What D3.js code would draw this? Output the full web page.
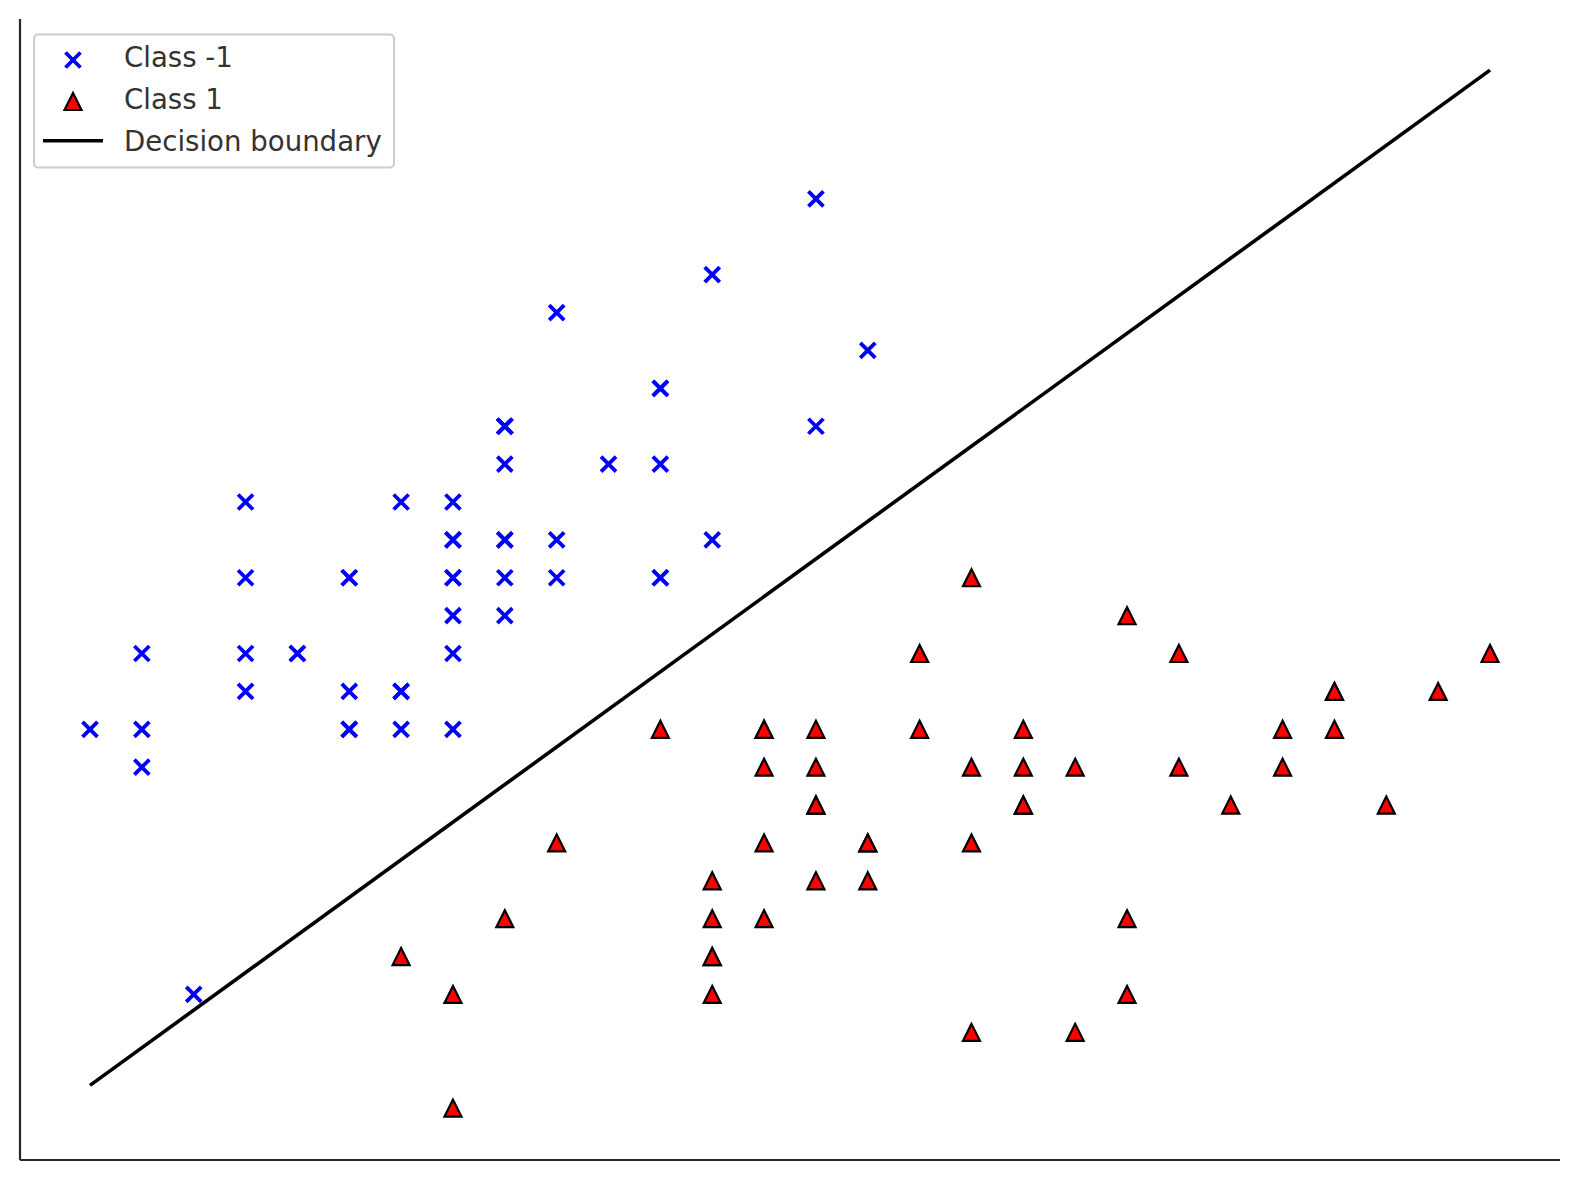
<!DOCTYPE html>
<html>
<head>
<meta charset="utf-8">
<script src="https://cdn.jsdelivr.net/npm/d3@7"></script>
<style>
  body { margin: 0; background: #fff; }
  svg { display: block; font-family: "DejaVu Sans", sans-serif; }
</style>
</head>
<body>
<div id="chart"></div>
<script>
// Iris: sepal length vs sepal width (setosa = -1, versicolor = 1)
const negX = [5.1, 4.9, 4.7, 4.6, 5.0, 5.4, 4.6, 5.0, 4.4, 4.9, 5.4, 4.8, 4.8, 4.3, 5.8, 5.7, 5.4, 5.1, 5.7, 5.1,
              5.4, 5.1, 4.6, 5.1, 4.8, 5.0, 5.0, 5.2, 5.2, 4.7, 4.8, 5.4, 5.2, 5.5, 4.9, 5.0, 5.5, 4.9, 4.4, 5.1,
              5.0, 4.5, 4.4, 5.0, 5.1, 4.8, 5.1, 4.6, 5.3, 5.0];
const negY = [3.5, 3.0, 3.2, 3.1, 3.6, 3.9, 3.4, 3.4, 2.9, 3.1, 3.7, 3.4, 3.0, 3.0, 4.0, 4.4, 3.9, 3.5, 3.8, 3.8,
              3.4, 3.7, 3.6, 3.3, 3.4, 3.0, 3.4, 3.5, 3.4, 3.2, 3.1, 3.4, 4.1, 4.2, 3.1, 3.2, 3.5, 3.6, 3.0, 3.4,
              3.5, 2.3, 3.2, 3.5, 3.8, 3.0, 3.8, 3.2, 3.7, 3.3];
const posX = [7.0, 6.4, 6.9, 5.5, 6.5, 5.7, 6.3, 4.9, 6.6, 5.2, 5.0, 5.9, 6.0, 6.1, 5.6, 6.7, 5.6, 5.8, 6.2, 5.6,
              5.9, 6.1, 6.3, 6.1, 6.4, 6.6, 6.8, 6.7, 6.0, 5.7, 5.5, 5.5, 5.8, 6.0, 5.4, 6.0, 6.7, 6.3, 5.6, 5.5,
              5.5, 6.1, 5.8, 5.0, 5.6, 5.7, 5.7, 6.2, 5.1, 5.7];
const posY = [3.2, 3.2, 3.1, 2.3, 2.8, 2.8, 3.3, 2.4, 2.9, 2.7, 2.0, 3.0, 2.2, 2.9, 2.9, 3.1, 3.0, 2.7, 2.2, 2.5,
              3.2, 2.8, 2.5, 2.8, 2.9, 3.0, 2.8, 3.0, 2.9, 2.6, 2.4, 2.4, 2.7, 2.7, 3.0, 3.4, 3.1, 2.3, 3.0, 2.5,
              2.6, 3.0, 2.6, 2.3, 2.7, 3.0, 2.9, 2.9, 2.5, 2.8];
const boundaryX = [4.3, 7.0];
const boundaryY = [2.06, 4.74];
const legendLabels = ["Class -1", "Class 1", "Decision boundary"];

const width = 1579, height = 1180;
const svg = d3.select("#chart").append("svg")
    .attr("width", width)
    .attr("height", height);

const x = d3.scaleLinear().domain([4.165, 7.135]).range([20, 1560]);
const y = d3.scaleLinear().domain([1.863, 4.875]).range([1160, 19]);

// spines (left and bottom only, no ticks)
svg.append("line").attr("x1", 20).attr("x2", 20).attr("y1", 19).attr("y2", 1160)
    .attr("stroke", "#262626").attr("stroke-width", 2.2);
svg.append("line").attr("x1", 20).attr("x2", 1560).attr("y1", 1160).attr("y2", 1160)
    .attr("stroke", "#262626").attr("stroke-width", 2.2);

const xPath = (cx, cy, r) => `M${cx - r},${cy - r}L${cx + r},${cy + r}M${cx - r},${cy + r}L${cx + r},${cy - r}`;
const triPath = (cx, cy, r) => `M${cx},${cy - r}L${cx - r},${cy + r}L${cx + r},${cy + r}Z`;

const neg = negX.map((v, i) => ({x: v, y: negY[i]}));
const pos = posX.map((v, i) => ({x: v, y: posY[i]}));

svg.append("g").selectAll("path").data(neg).join("path")
    .attr("d", d => xPath(x(d.x), y(d.y), 7.5))
    .attr("stroke", "#0000ff").attr("stroke-width", 3.8).attr("fill", "none");

svg.append("g").selectAll("path").data(pos).join("path")
    .attr("d", d => triPath(x(d.x), y(d.y), 8.5))
    .attr("fill", "#ff0000").attr("stroke", "#000").attr("stroke-width", 2.2);

svg.append("path")
    .datum(boundaryX.map((v, i) => [v, boundaryY[i]]))
    .attr("fill", "none").attr("stroke", "#000").attr("stroke-width", 3.6)
    .attr("d", d3.line().x(d => x(d[0])).y(d => y(d[1])));

// legend
const lg = svg.append("g");
lg.append("rect").attr("x", 34).attr("y", 34.5).attr("width", 360).attr("height", 133)
    .attr("rx", 4).attr("fill", "#fff").attr("fill-opacity", 0.8)
    .attr("stroke", "#cccccc").attr("stroke-width", 2);
lg.append("path").attr("d", xPath(73, 60, 7.5))
    .attr("stroke", "#0000ff").attr("stroke-width", 3.8).attr("fill", "none");
lg.append("path").attr("d", triPath(73, 101.5, 8.5))
    .attr("fill", "#ff0000").attr("stroke", "#000").attr("stroke-width", 2.2);
lg.append("line").attr("x1", 43).attr("x2", 103).attr("y1", 140.7).attr("y2", 140.7)
    .attr("stroke", "#000").attr("stroke-width", 3.6);
const baselines = [66.7, 109, 150.7];
lg.selectAll("text.lab").data(legendLabels).join("text")
    .attr("class", "lab")
    .attr("x", 124).attr("y", (d, i) => baselines[i])
    .attr("fill", "#333333")
    .style("font-size", "27.6px")
    .text(d => d);
</script>
</body>
</html>
